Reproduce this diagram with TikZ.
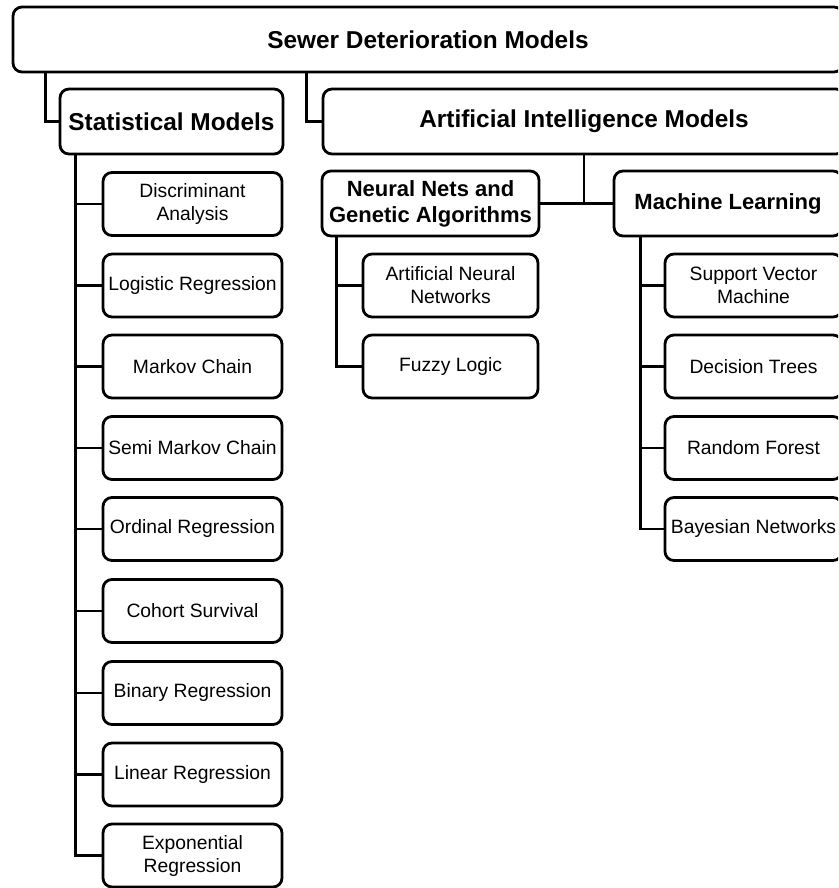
\documentclass[tikz,border=0pt]{standalone}
\usepackage{fontspec}
\setmainfont{Liberation Sans}
\begin{document}
\begin{tikzpicture}[x=1pt,y=-1pt,
  box/.style={draw=black, line width=2.8pt, rounded corners=9pt, fill=white,
    inner sep=0pt, align=center},
  head/.style={box, minimum height=65pt, font=\fontsize{24.4}{28}\selectfont\bfseries},
  sub/.style={box, minimum height=65pt, font=\fontsize{22}{26}\selectfont\bfseries},
  leaf/.style={box, minimum height=63pt, font=\fontsize{19.3}{23}\selectfont},
  statleaf/.style={leaf, minimum width=179pt},
  nnleaf/.style={leaf, minimum width=175pt},
  mlleaf/.style={leaf, minimum width=177pt},
  link/.style={line width=2.8pt, line join=miter}]
\useasboundingbox (0,0) rectangle (838,888);
\clip (0,0) rectangle (838,888);

% top levels
\node[head, minimum width=830pt] (root) at (428,39.5) {Sewer Deterioration Models};
\node[head, minimum width=223pt] (stat) at (171.5,121.5) {Statistical Models};
\node[head, minimum width=522pt] (ai) at (584,121.5) {Artificial Intelligence Models};
\node[sub, minimum width=217pt] (nn) at (430.5,203.5) {Neural Nets and\\Genetic Algorithms};
\node[sub, minimum width=228pt] (ml) at (728,203.5) {Machine Learning};

% statistical models
\node[statleaf] (disc) at (192.5,204) {Discriminant\\Analysis};
\node[statleaf] (logi) at (192.5,285.5) {Logistic Regression};
\node[statleaf] (mark) at (192.5,366.5) {Markov Chain};
\node[statleaf] (semi) at (192.5,448) {Semi Markov Chain};
\node[statleaf] (ordi) at (192.5,529) {Ordinal Regression};
\node[statleaf] (coho) at (192.5,611) {Cohort Survival};
\node[statleaf] (bina) at (192.5,693) {Binary Regression};
\node[statleaf] (line) at (192.5,774.5) {Linear Regression};
\node[statleaf] (expo) at (192.5,855.5) {Exponential\\Regression};

% neural nets and genetic algorithms
\node[nnleaf] (ann) at (450.5,285.5) {Artificial Neural\\Networks};
\node[nnleaf] (fuzz) at (450.5,366.5) {Fuzzy Logic};

% machine learning
\node[mlleaf] (svm) at (753.5,285.5) {Support Vector\\Machine};
\node[mlleaf] (dtre) at (753.5,366.5) {Decision Trees};
\node[mlleaf] (rfor) at (753.5,448) {Random Forest};
\node[mlleaf] (baye) at (753.5,529) {Bayesian Networks};

% connectors
\draw[link] ([xshift=34pt]root.south west) |- (stat.west);
\draw[link] ([xshift=295pt]root.south west) |- (ai.west);
\draw[link] (ai.south) -- (ai.south |- nn.east);
\draw[link] (nn.east) -- (ml.west);
\foreach \c in {disc,logi,mark,semi,ordi,coho,bina,line,expo}
  \draw[link] ([xshift=17pt]stat.south west) |- (\c.west);
\foreach \c in {ann,fuzz}
  \draw[link] ([xshift=16pt]nn.south west) |- (\c.west);
\foreach \c in {svm,dtre,rfor,baye}
  \draw[link] ([xshift=28pt]ml.south west) |- (\c.west);
\end{tikzpicture}
\end{document}
